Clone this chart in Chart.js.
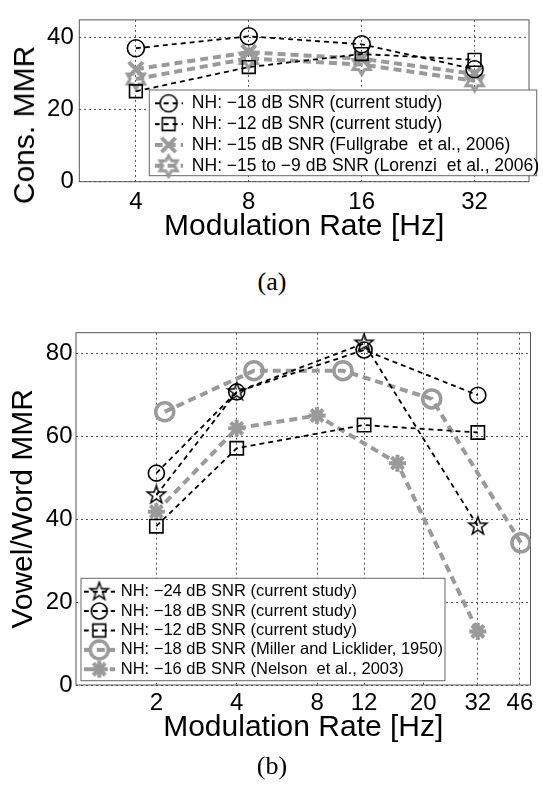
<!DOCTYPE html>
<html>
<head>
<meta charset="utf-8">
<script src="https://cdn.jsdelivr.net/npm/chart.js@4.4.1/dist/chart.umd.min.js"></script>
<style>
  body { margin: 0; background: #fff; width: 543px; height: 789px; position: relative; overflow: hidden; font-family: "Liberation Sans", Arial, sans-serif; }
  canvas { position: absolute; left: 0; }
  .cap { position: absolute; font-family: "Liberation Serif", "DejaVu Serif", serif; font-size: 26px; transform: translate(-50%, -50%); }
  .ytitle { position: absolute; font-size: 30px; white-space: nowrap; transform: translate(-50%, -50%) rotate(-90deg); }
</style>
</head>
<body>
<canvas id="chartA" width="543" height="260" style="top:0"></canvas>
<div class="ytitle" style="left:24px;top:125px">Cons. MMR</div>
<div class="cap" style="left:272px;top:282px">(a)</div>
<canvas id="chartB" width="543" height="460" style="top:300px"></canvas>
<div class="cap" style="left:272px;top:766px">(b)</div>
<script>
// (a) consonant modulation masking release
const ratesA = [4, 8, 16, 32];
const consNH18 = [36.9, 40.2, 38.0, 31.1];
const consNH12 = [25.0, 31.7, 35.3, 33.7];
const consFullgrabe = [31.1, 35.8, 34.0, 29.8];
const consLorenzi = [28.4, 34.1, 32.4, 27.9];
const xTicksA = [4, 8, 16, 32];
const yTicksA = [0, 20, 40];

// (b) vowel / word modulation masking release
const ratesB = [2, 4, 12, 32];
const vwNH24 = [45.8, 70.7, 82.4, 38.3];
const vwNH18 = [51.1, 70.7, 80.8, 69.9];
const vwNH12 = [38.3, 57.1, 62.7, 60.9];
const ratesMiller = [2.15, 4.64, 10, 21.5, 46.4];
const vwMiller = [65.9, 75.8, 75.8, 69.0, 34.3];
const ratesNelson = [2, 4, 8, 16, 32];
const vwNelson = [41.8, 61.9, 65.0, 53.5, 12.9];
const xTicksB = [2, 4, 8, 12, 20, 32, 46];
const yTicksB = [0, 20, 40, 60, 80];

const FONT = '"Liberation Sans", Arial, Helvetica, sans-serif';
const GRAY = '#9a9a9a';
const GRID = '#555';
const BLACK_DASH = [5, 4];
const GRAY_DASH = [8, 5];

// star-shaped markers (pentagram / hexagram) as small canvases
function starImage(points, outer, inner, lw, color) {
  const size = Math.ceil(2 * outer + 3 * lw + 2);
  const c = document.createElement('canvas');
  c.width = c.height = size;
  const g = c.getContext('2d');
  g.strokeStyle = color;
  g.lineWidth = lw;
  g.beginPath();
  for (let i = 0; i < points * 2; i++) {
    const r = i % 2 ? inner : outer;
    const a = -Math.PI / 2 + i * Math.PI / points;
    const px = size / 2 + r * Math.cos(a), py = size / 2 + r * Math.sin(a);
    if (i) g.lineTo(px, py); else g.moveTo(px, py);
  }
  g.closePath();
  g.stroke();
  return c;
}
const pentagram = starImage(5, 9.5, 3.8, 1.5, '#000');
const hexagram = starImage(6, 10, 5.8, 3, GRAY);

// legend symbols: "-o-" style, a dashed line with the marker in the middle
function marker(kind, size, lw, color) {
  return (g, x, y) => {
    g.strokeStyle = color;
    g.lineWidth = lw;
    g.setLineDash([]);
    g.beginPath();
    if (kind === 'circle') {
      g.arc(x, y, size, 0, 2 * Math.PI);
    } else if (kind === 'rect') {
      const s = size * Math.SQRT1_2;
      g.rect(x - s, y - s, 2 * s, 2 * s);
    } else if (kind === 'crossRot') {
      const s = size * Math.SQRT1_2;
      g.moveTo(x - s, y - s); g.lineTo(x + s, y + s);
      g.moveTo(x + s, y - s); g.lineTo(x - s, y + s);
    } else if (kind === 'star') {
      const s = size * Math.SQRT1_2;
      g.moveTo(x - size, y); g.lineTo(x + size, y);
      g.moveTo(x, y - size); g.lineTo(x, y + size);
      g.moveTo(x - s, y - s); g.lineTo(x + s, y + s);
      g.moveTo(x + s, y - s); g.lineTo(x - s, y + s);
    } else {
      g.drawImage(kind, x - kind.width / 2, y - kind.height / 2);
      return;
    }
    g.stroke();
  };
}
function makeIcon(w, h, color, lw, dash, mark) {
  const c = document.createElement('canvas');
  c.width = w; c.height = h;
  const g = c.getContext('2d');
  g.strokeStyle = color;
  g.lineWidth = lw;
  g.setLineDash(dash);
  g.beginPath(); g.moveTo(0, h / 2); g.lineTo(w, h / 2); g.stroke();
  mark(g, w / 2, h / 2);
  return c;
}

function lineSet(label, xs, ys, color, width, dash, pointStyle, radius, pw) {
  return {
    label: label,
    data: xs.map((x, i) => ({x: x, y: ys[i]})),
    borderColor: color, borderWidth: width, borderDash: dash,
    backgroundColor: 'rgba(0,0,0,0)', fill: false, tension: 0,
    pointStyle: pointStyle, pointRadius: radius, pointBorderWidth: pw,
    pointBorderColor: color, pointBackgroundColor: 'rgba(0,0,0,0)'
  };
}

// frame around the axes, white legend box, legend moved to a fixed spot
const framePlugin = {
  id: 'frame',
  afterLayout(chart, args, opts) {
    const lg = chart.legend;
    lg.left = opts.legendAt[0];
    lg.top = opts.legendAt[1];
    lg.right = lg.left + 420;
    lg.bottom = lg.top + 200;
  },
  beforeDatasetsDraw(chart, args, opts) {
    const {ctx, chartArea: a} = chart;
    const b = opts.box;
    ctx.save();
    ctx.setLineDash([]);
    ctx.lineWidth = 1;
    ctx.strokeStyle = '#555';
    ctx.strokeRect(a.left, a.top, a.right - a.left, a.bottom - a.top);
    ctx.fillStyle = '#fff';
    ctx.fillRect(b[0], b[1], b[2] - b[0], b[3] - b[1]);
    ctx.strokeStyle = '#666';
    ctx.strokeRect(b[0], b[1], b[2] - b[0], b[3] - b[1]);
    ctx.restore();
    chart.legend.draw(chart.chartArea);
  }
};

const gridOpts = { display: true, color: GRID, lineWidth: 1, drawTicks: false, borderDash: [2, 3] };
const borderOpts = { display: false, dash: [2, 3] };

function axisX(min, max, ticks, height, tickPad, titlePad) {
  return {
    type: 'logarithmic', min: min, max: max,
    afterBuildTicks: s => { s.ticks = ticks.map(v => ({value: v})); },
    afterFit: s => { s.height = height; },
    grid: gridOpts,
    border: borderOpts,
    ticks: { autoSkip: false, maxRotation: 0, padding: tickPad, color: '#000',
             font: {family: FONT, size: 24}, callback: v => String(v) },
    title: { display: true, text: 'Modulation Rate [Hz]', color: '#000',
             font: {family: FONT, size: 30}, padding: {top: 0, bottom: titlePad} }
  };
}
function axisY(min, max, ticks, width, tickPad, title) {
  return {
    min: min, max: max,
    afterBuildTicks: s => { s.ticks = ticks.map(v => ({value: v})); },
    afterFit: s => { s.width = width; },
    grid: gridOpts,
    border: borderOpts,
    ticks: { padding: tickPad, color: '#000', font: {family: FONT, size: 24} },
    title: title
  };
}
function legendOpts(icons, size, pad, boxW) {
  return {
    position: 'chartArea', align: 'start',
    labels: {
      usePointStyle: true, pointStyleWidth: boxW, padding: pad, color: '#000',
      font: {family: FONT, size: size},
      generateLabels(chart) {
        const items = Chart.defaults.plugins.legend.labels.generateLabels(chart);
        items.forEach((it, i) => { it.pointStyle = icons[i]; });
        return items;
      }
    }
  };
}

// ---- chart (a)
const iconsA = [
  makeIcon(28, 22, '#000', 1.8, BLACK_DASH, marker('circle', 8.5, 1.6, '#000')),
  makeIcon(28, 22, '#000', 1.8, BLACK_DASH, marker('rect', 9, 1.6, '#000')),
  makeIcon(28, 22, GRAY, 4, GRAY_DASH, marker('crossRot', 10, 4, GRAY)),
  makeIcon(28, 26, GRAY, 4, GRAY_DASH, marker(hexagram))
];
new Chart(document.getElementById('chartA'), {
  type: 'line',
  data: {
    datasets: [
      lineSet('NH: \u221218 dB SNR (current study)', ratesA, consNH18, '#000', 1.8, BLACK_DASH, 'circle', 8.5, 1.6),
      lineSet('NH: \u221212 dB SNR (current study)', ratesA, consNH12, '#000', 1.8, BLACK_DASH, 'rect', 9, 1.6),
      lineSet('NH: \u221215 dB SNR (Fullgrabe  et al., 2006)', ratesA, consFullgrabe, GRAY, 4, GRAY_DASH, 'crossRot', 10, 4),
      lineSet('NH: \u221215 to \u22129 dB SNR (Lorenzi  et al., 2006)', ratesA, consLorenzi, GRAY, 4, GRAY_DASH, hexagram, 9, 3)
    ]
  },
  options: {
    responsive: false, animation: false, events: [],
    layout: { padding: {left: 0, top: 9, right: 1.3, bottom: 0} },
    scales: {
      x: axisX(2.826, 44.7, xTicksA, 78.3, 6, 15),
      y: axisY(0, 44.74, yTicksA, 79.3, 5.5, {display: false})
    },
    plugins: {
      legend: legendOpts(iconsA, 17.5, 3.3, 29),
      tooltip: { enabled: false },
      frame: { box: [149.3, 90, 536.7, 175.7], legendAt: [150.8, 91.25] }
    }
  },
  plugins: [framePlugin]
});

// ---- chart (b)
const iconsB = [
  makeIcon(31, 24, '#000', 1.8, BLACK_DASH, marker(pentagram)),
  makeIcon(31, 22, '#000', 1.8, BLACK_DASH, marker('circle', 8, 1.6, '#000')),
  makeIcon(31, 22, '#000', 1.8, BLACK_DASH, marker('rect', 9, 1.6, '#000')),
  makeIcon(31, 24, GRAY, 4, GRAY_DASH, marker('circle', 9, 3.5, GRAY)),
  makeIcon(31, 24, GRAY, 4, GRAY_DASH, marker('star', 8.5, 4, GRAY))
];
new Chart(document.getElementById('chartB'), {
  type: 'line',
  data: {
    datasets: [
      lineSet('NH: \u221224 dB SNR (current study)', ratesB, vwNH24, '#000', 1.8, BLACK_DASH, pentagram, 9, 1.5),
      lineSet('NH: \u221218 dB SNR (current study)', ratesB, vwNH18, '#000', 1.8, BLACK_DASH, 'circle', 8, 1.6),
      lineSet('NH: \u221212 dB SNR (current study)', ratesB, vwNH12, '#000', 1.8, BLACK_DASH, 'rect', 9.4, 1.6),
      lineSet('NH: \u221218 dB SNR (Miller and Licklider, 1950)', ratesMiller, vwMiller, GRAY, 4, GRAY_DASH, 'circle', 9, 3.5),
      lineSet('NH: \u221216 dB SNR (Nelson  et al., 2003)', ratesNelson, vwNelson, GRAY, 4, GRAY_DASH, 'star', 8.5, 4)
    ]
  },
  options: {
    responsive: false, animation: false, events: [],
    layout: { padding: {left: 0, top: 32.7, right: 7.3, bottom: 0} },
    scales: {
      x: axisX(1, 50.4, xTicksB, 75, 4, 14.5),
      y: axisY(0, 84.97, yTicksB, 76, 3.5, {
        display: true, text: 'Vowel/Word MMR', color: '#000',
        font: {family: FONT, size: 30}, padding: {top: 6, bottom: 0}
      })
    },
    plugins: {
      legend: legendOpts(iconsB, 16.5, 2.9, 26.5),
      tooltip: { enabled: false },
      frame: { box: [81, 278.3, 445, 380.7], legendAt: [83.1, 280.5] }
    }
  },
  plugins: [framePlugin]
});
</script>
</body>
</html>
